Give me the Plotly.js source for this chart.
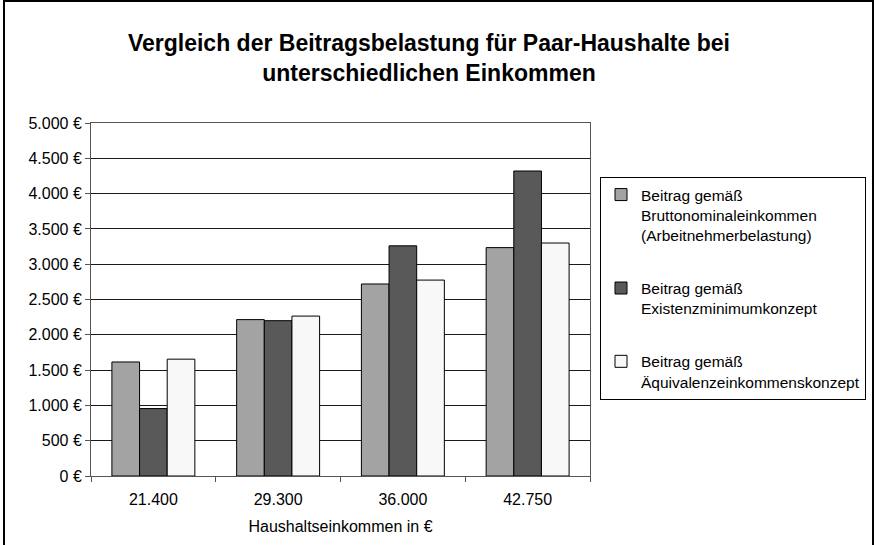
<!DOCTYPE html>
<html>
<head>
<meta charset="utf-8">
<script src="https://cdn.plot.ly/plotly-3.0.1.min.js"></script>
<style>
html,body{margin:0;padding:0;background:#fff;}
#wrap{position:relative;width:879px;height:545px;overflow:hidden;}
#frame{position:absolute;left:3px;top:0px;width:871px;height:600px;border:2px solid #000;box-sizing:border-box;pointer-events:none;}
#chart{position:absolute;left:0;top:0;width:879px;height:545px;}
</style>
</head>
<body>
<div id="wrap">
<div id="chart"></div>
<div id="frame"></div>
</div>
<script>
const categories = ["21.400", "29.300", "36.000", "42.750"];
const seriesNames = [
  "Beitrag gemäß<br>Bruttonominaleinkommen<br>(Arbeitnehmerbelastung)",
  "Beitrag gemäß<br>Existenzminimumkonzept",
  "Beitrag gemäß<br>Äquivalenzeinkommenskonzept"
];
const brutto = [1615, 2215, 2720, 3235];
const existenz = [955, 2200, 3260, 4320];
const aequivalenz = [1655, 2265, 2775, 3300];
const colors = ["#a3a3a3", "#595959", "#f8f8f8"];

const FONT = "Liberation Sans, Arial, sans-serif";
const seriesValues = [brutto, existenz, aequivalenz];
const traces = seriesValues.map((vals, i) => ({
  type: "bar",
  x: categories,
  y: vals,
  name: seriesNames[i],
  legendgroup: "g" + i,
  marker: {color: colors[i], line: {color: "#000", width: 1}},
  hoverinfo: "x+y"
}));

const layout = {
  width: 879,
  height: 545,
  paper_bgcolor: "#fff",
  plot_bgcolor: "#fff",
  font: {family: FONT, size: 16, color: "#000"},
  separators: ",.",
  margin: {l: 91, r: 289, t: 123, b: 69, pad: 0},
  title: {
    text: "<b>Vergleich der Beitragsbelastung für Paar-Haushalte bei<br>unterschiedlichen Einkommen</b>",
    font: {size: 23, family: FONT, color: "#000"},
    x: 0.488, xref: "container", xanchor: "center",
    y: (545 - 51) / 545, yref: "container", yanchor: "middle"
  },
  barmode: "group",
  bargap: 0.335,
  bargroupgap: 0,
  xaxis: {
    type: "category",
    showline: true, linecolor: "#555", linewidth: 1, mirror: true,
    ticks: "outside", tickson: "boundaries", ticklen: 5, tickcolor: "#555",
    showgrid: false,
    ticklabelstandoff: 9,
    tickfont: {size: 16},
    title: {text: "Haushaltseinkommen in €", font: {size: 16}, standoff: 13}
  },
  yaxis: {
    range: [0, 5000],
    dtick: 500,
    tick0: 0,
    tickformat: ",d",
    ticksuffix: " €",
    showline: true, linecolor: "#555", linewidth: 1, mirror: true,
    ticks: "outside", ticklen: 5, tickcolor: "#555",
    showgrid: true, gridcolor: "#1a1a1a", gridwidth: 1,
    zeroline: false,
    tickfont: {size: 16}
  },
  showlegend: true,
  legend: {
    x: 600 / 879, xref: "container", xanchor: "left",
    y: (545 - 177) / 545, yref: "container", yanchor: "top",
    bordercolor: "#000", borderwidth: 1,
    bgcolor: "#fff",
    font: {size: 15.5},
    tracegroupgap: 30,
    traceorder: "grouped",
    valign: "top",
    itemclick: false
  }
};

Plotly.newPlot("chart", traces, layout, {displayModeBar: false, staticPlot: true});
</script>
</body>
</html>
